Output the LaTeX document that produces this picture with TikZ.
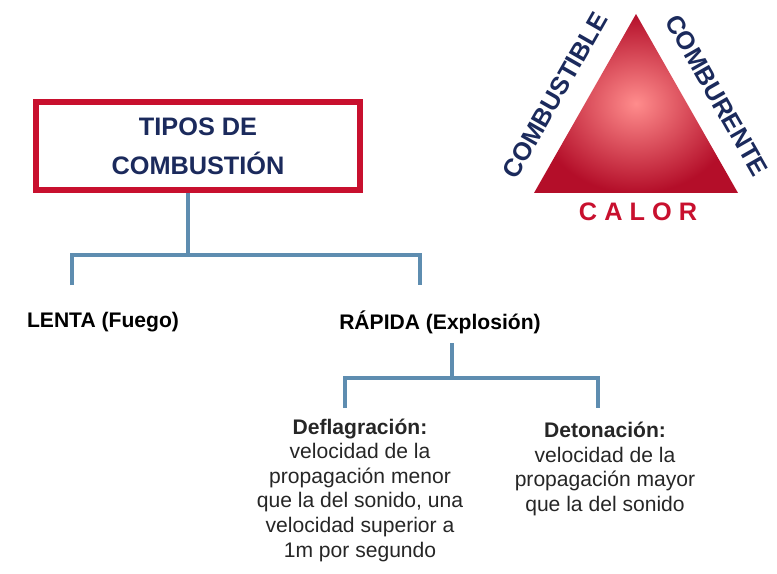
\documentclass[tikz,border=0pt]{standalone}
\usepackage{fontspec}
\setmainfont{Liberation Sans}
\usepackage{tikz}
\usetikzlibrary{positioning}
\usetikzlibrary{calc}
\definecolor{navy}{HTML}{1B2A5C}
\definecolor{boxred}{HTML}{C8102E}
\definecolor{branch}{HTML}{5E8DB0}
\tikzset{
  branchline/.style={draw=branch,line width=2.6pt},
  leaf/.style={font=\bfseries\large,text=black},
  note/.style={align=center,font=\large,text=black!85},
  side/.style={font=\bfseries\Large,text=navy}
}
\begin{document}
\begin{tikzpicture}[x=0.02cm,y=-0.02cm]
  \useasboundingbox (0,0) rectangle (777,574);
  % main box
  \node[draw=boxred,line width=3pt,minimum width=6.48cm,
        align=center,minimum height=1.76cm,
        font=\bfseries\Large,text=navy] (tipos) at (198,146)
        {TIPOS DE\\[4pt] COMBUSTIÓN};
  \node[leaf] (lenta) at (103,322) {LENTA (Fuego)};
  \node[leaf] (rapida) at (440,322) {RÁPIDA (Explosión)};
  \node[note] (defla) at (360,490)
    {\textbf{Deflagración:}\\velocidad de la\\propagación menor\\que la del sonido, una\\velocidad superior a\\1m por segundo};
  \node[note,anchor=north] (deto) at (605,416)
    {\textbf{Detonación:}\\velocidad de la\\propagación mayor\\que la del sonido};
  % first tree
  \coordinate (j1) at (188,255);
  \draw[branchline] (tipos.south -| j1) -- (j1);
  \draw[branchline] (72,285) -- (72,255) -- (420,255) -- (420,285);
  % second tree
  \coordinate (j2) at (452,378);
  \draw[branchline] (452,343) -- (j2);
  \draw[branchline] (345,408) -- (345,378) -- (598,378) -- (598,408);
  % triangle
  \coordinate (ta) at (636,14);
  \coordinate (tl) at (534,193);
  \coordinate (tr) at (738,193);
  \shade[inner color=red!45!white,outer color=boxred!90!black]
    (ta) -- (tr) -- (tl) -- cycle;
  \node[side,rotate=60.3] (fuel) at ($(ta)!0.5!(tl)+(-30,-8)$) {COMBUSTIBLE};
  \node[side,rotate=-60.3] (oxid) at ($(ta)!0.5!(tr)+(30,-8)$) {COMBURENTE};
  \node[font=\bfseries\Large,text=boxred] (heat) at (638,212) {C A L O R};
\end{tikzpicture}
\end{document}
